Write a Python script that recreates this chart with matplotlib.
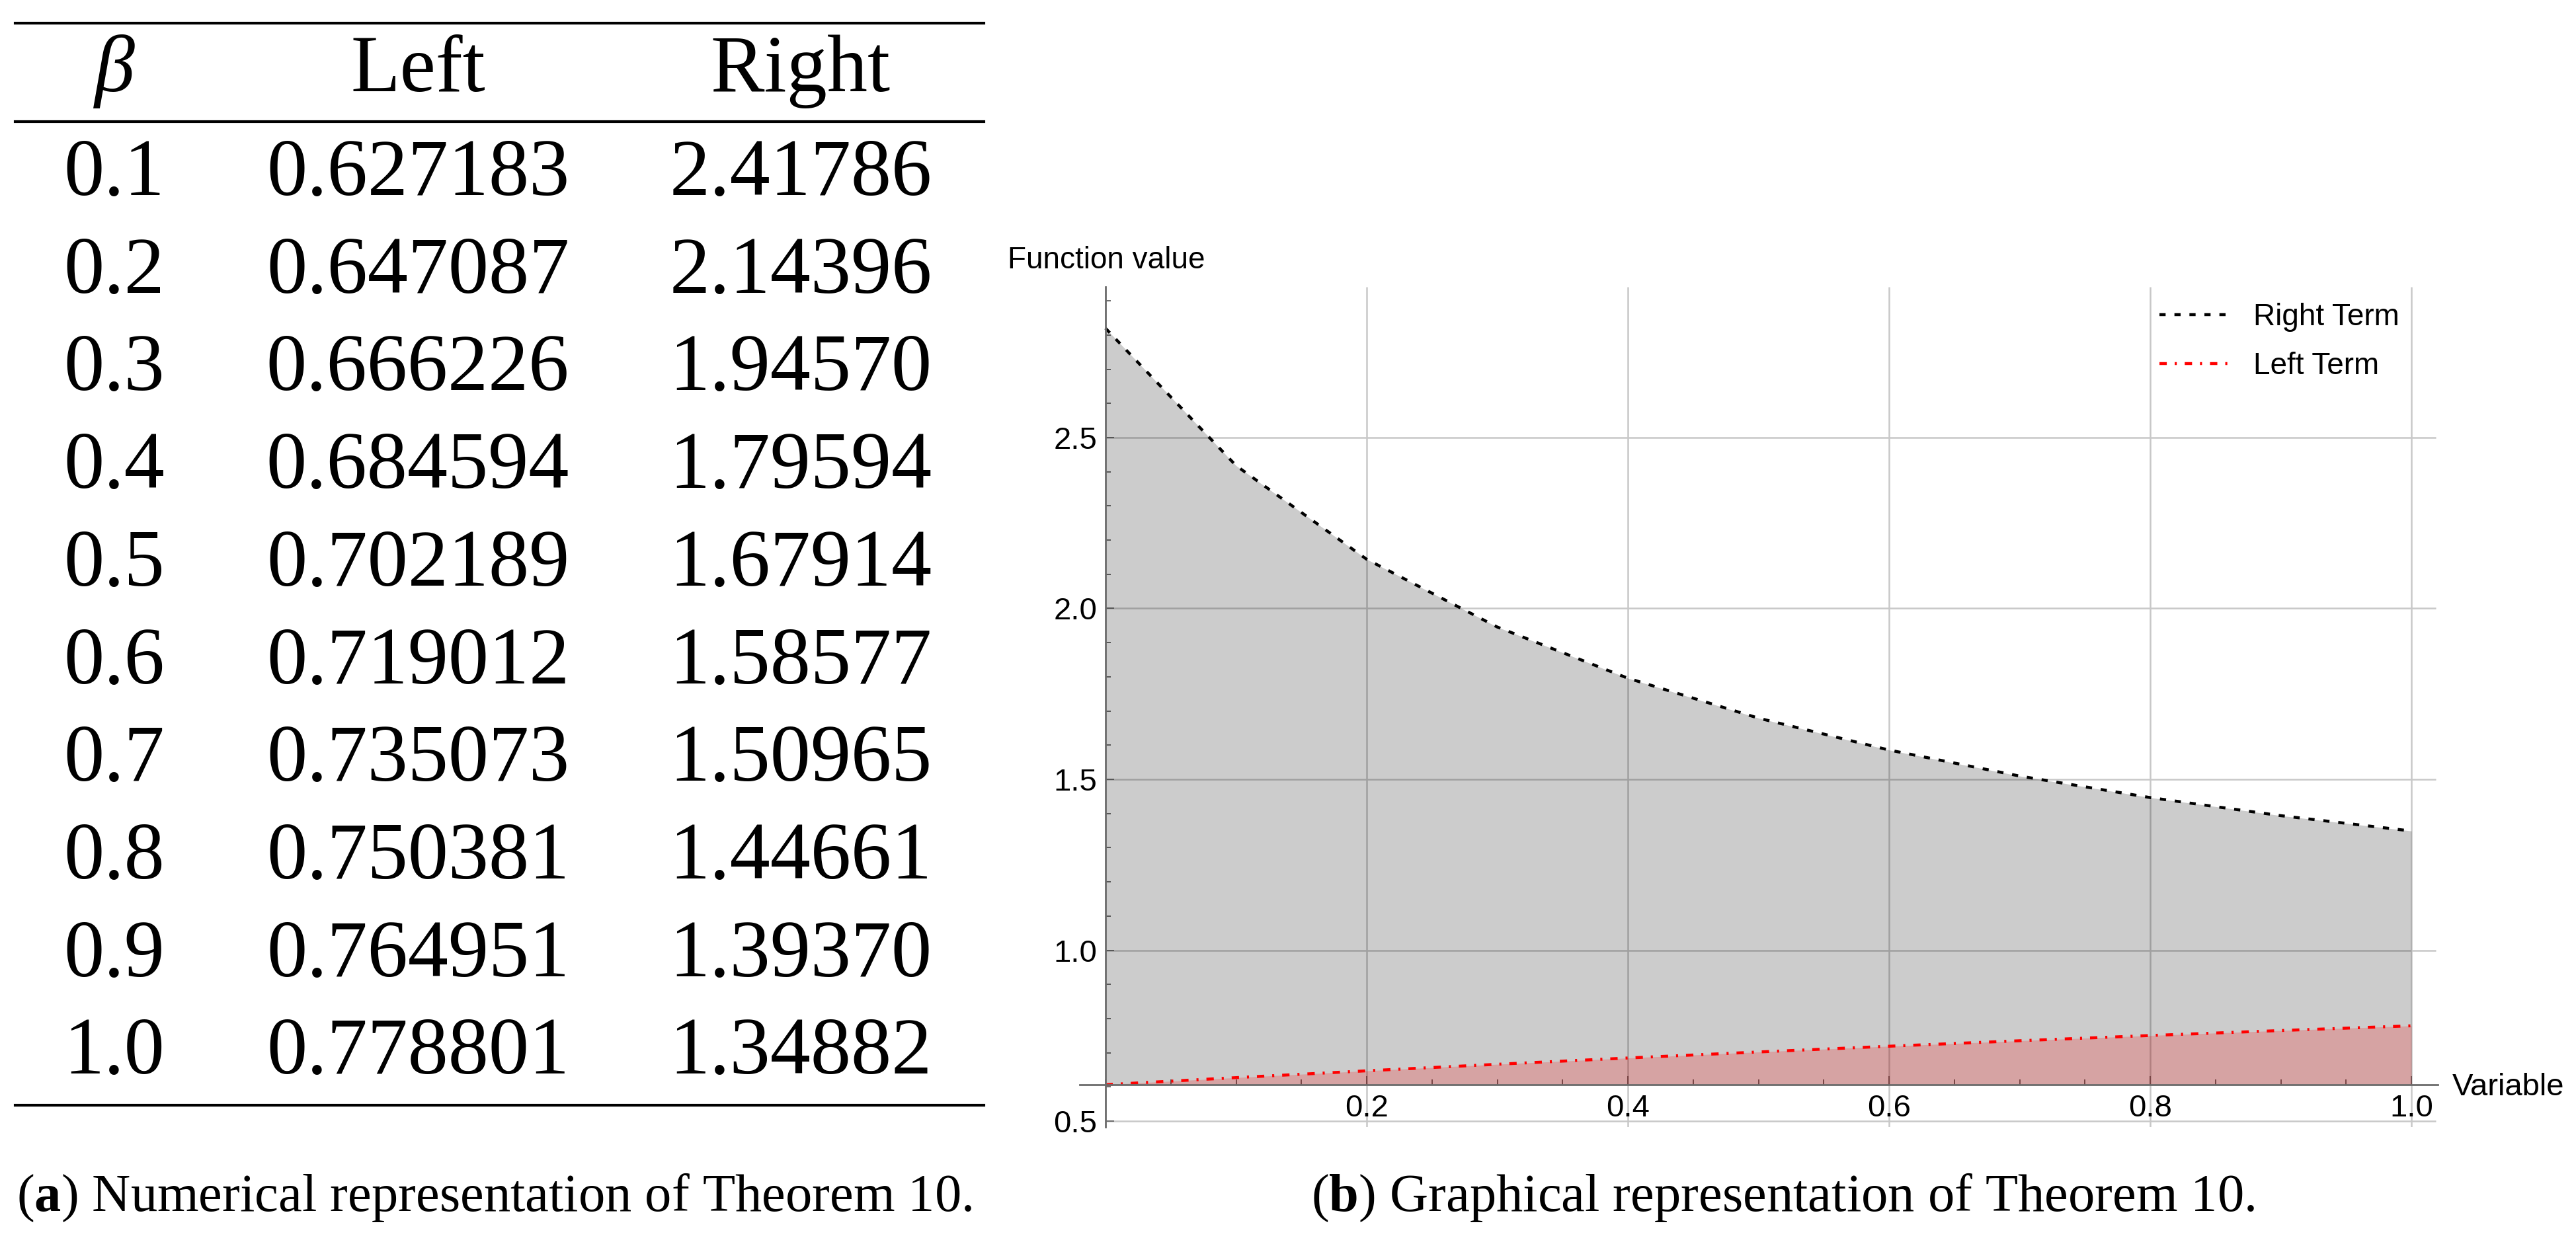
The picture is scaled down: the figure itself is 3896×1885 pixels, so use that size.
import matplotlib
matplotlib.use("Agg")
import matplotlib.pyplot as plt
from matplotlib.lines import Line2D
import numpy as np

plt.rcParams['font.family'] = ['Liberation Sans', 'DejaVu Sans']
plt.rcParams['mathtext.fontset'] = 'custom'
plt.rcParams['mathtext.rm'] = 'Liberation Serif'
plt.rcParams['mathtext.bf'] = 'Liberation Serif:bold'
plt.rcParams['mathtext.it'] = 'Liberation Serif:italic'

# table data
beta = [0.1, 0.2, 0.3, 0.4, 0.5, 0.6, 0.7, 0.8, 0.9, 1.0]
left_vals = [0.627183, 0.647087, 0.666226, 0.684594, 0.702189,
             0.719012, 0.735073, 0.750381, 0.764951, 0.778801]
right_vals = [2.41786, 2.14396, 1.94570, 1.79594, 1.67914,
              1.58577, 1.50965, 1.44661, 1.39370, 1.34882]
col_labels = ["β", "Left", "Right"]

# curve start values at beta = 0
left_at0 = 0.6065
right_at0 = 2.82
axis_y = 0.6065

x_plot = [0.0] + beta
left_plot = [left_at0] + left_vals
right_plot = [right_at0] + right_vals

xticks_major = [0.2, 0.4, 0.6, 0.8, 1.0]
yticks_major = [0.5, 1.0, 1.5, 2.0, 2.5]

cap_a = r"($\mathbf{a}$) Numerical representation of Theorem 10."
cap_b = r"($\mathbf{b}$) Graphical representation of Theorem 10."

W, H = 3896, 1885
fig = plt.figure(figsize=(W / 100, H / 100), dpi=100)

def fx(px):
    return px / W

def fy(py):
    return 1 - py / H

# ---- (a) table ----
serif = 'Liberation Serif'
col_x = [173, 632, 1211]
for rule_y in [35, 184, 1672]:
    fig.add_artist(Line2D([fx(23), fx(1488)], [fy(rule_y), fy(rule_y)],
                          color='black', lw=3.0))
for i, lab in enumerate(col_labels):
    fig.text(fx(col_x[i]), fy(138), lab, ha='center', va='baseline',
             fontsize=88, family=serif, style='italic' if i == 0 else 'normal')
row0, row_step = 295, 147.7
for r in range(len(beta)):
    yb = fy(row0 + r * row_step)
    cells = [f"{beta[r]:.1f}", f"{left_vals[r]:.6f}", f"{right_vals[r]:.5f}"]
    for i, s in enumerate(cells):
        fig.text(fx(col_x[i]), yb, s, ha='center', va='baseline',
                 fontsize=88, family=serif)

fig.text(fx(25), fy(1832), cap_a, ha='left', va='baseline', fontsize=58, family=serif)
fig.text(fx(1983), fy(1832), cap_b, ha='left', va='baseline', fontsize=58, family=serif)

# ---- (b) plot ----
ax = fig.add_axes([fx(1632.5), fy(1705), (3686.5 - 1632.5) / W, (1705 - 434) / H])
ax.set_xlim(-0.02, 1.02)
ax.set_ylim(0.4826, 2.941)
ax.patch.set_alpha(0)

grid_c = '#c8c8c8'
ax.hlines(yticks_major, 0, 1.0187, color=grid_c, lw=1.8, zorder=1)
ax.vlines(xticks_major, 0.4826, 2.941, color=grid_c, lw=1.8, zorder=1)

ax.fill_between(x_plot, axis_y, right_plot, color='black', alpha=0.2, lw=0, zorder=2)
ax.fill_between(x_plot, axis_y, left_plot, color='red', alpha=0.2, lw=0, zorder=2)
ax.plot(x_plot, right_plot, color='black', lw=3.2, dashes=(2.1, 3.0),
        label='Right Term', zorder=4)
ax.plot(x_plot, left_plot, color='red', lw=3.2, dashes=(2.5, 2.7, 0.7, 2.7),
        label='Left Term', zorder=4)

axis_c = '#6b6b6b'
for s in ['top', 'right']:
    ax.spines[s].set_visible(False)
ax.spines['left'].set_position(('data', 0))
ax.spines['bottom'].set_position(('data', axis_y))
for s in ['left', 'bottom']:
    ax.spines[s].set_color(axis_c)
    ax.spines[s].set_linewidth(2.0)
    ax.spines[s].set_zorder(5)

ax.set_xticks(xticks_major)
ax.set_xticklabels([f"{v:.1f}" for v in xticks_major])
ax.set_yticks(yticks_major)
ax.set_yticklabels([f"{v:.1f}" for v in yticks_major])
ax.set_xticks(np.arange(0, 1.001, 0.05), minor=True)
ax.set_yticks(np.arange(0.5, 2.95, 0.1), minor=True)
ax.tick_params(which='major', direction='in', length=9.4, width=1.4,
               color=axis_c, labelsize=34)
ax.tick_params(which='minor', direction='in', length=5.5, width=1.4, color=axis_c)
ax.tick_params(axis='x', which='major', pad=10)
ax.tick_params(axis='y', which='major', pad=9)

fig.text(fx(1524), fy(405.6), "Function value", ha='left', va='baseline', fontsize=33)
fig.text(fx(3709), fy(1657), "Variable", ha='left', va='baseline', fontsize=34)

ax.legend(loc='upper left', bbox_to_anchor=(fx(3265.7), fy(458)),
          bbox_transform=fig.transFigure, frameon=False, fontsize=33,
          borderpad=0, borderaxespad=0, handlelength=2.42, handletextpad=0.69,
          labelspacing=0.65)

fig.savefig("out.png", dpi=100)
